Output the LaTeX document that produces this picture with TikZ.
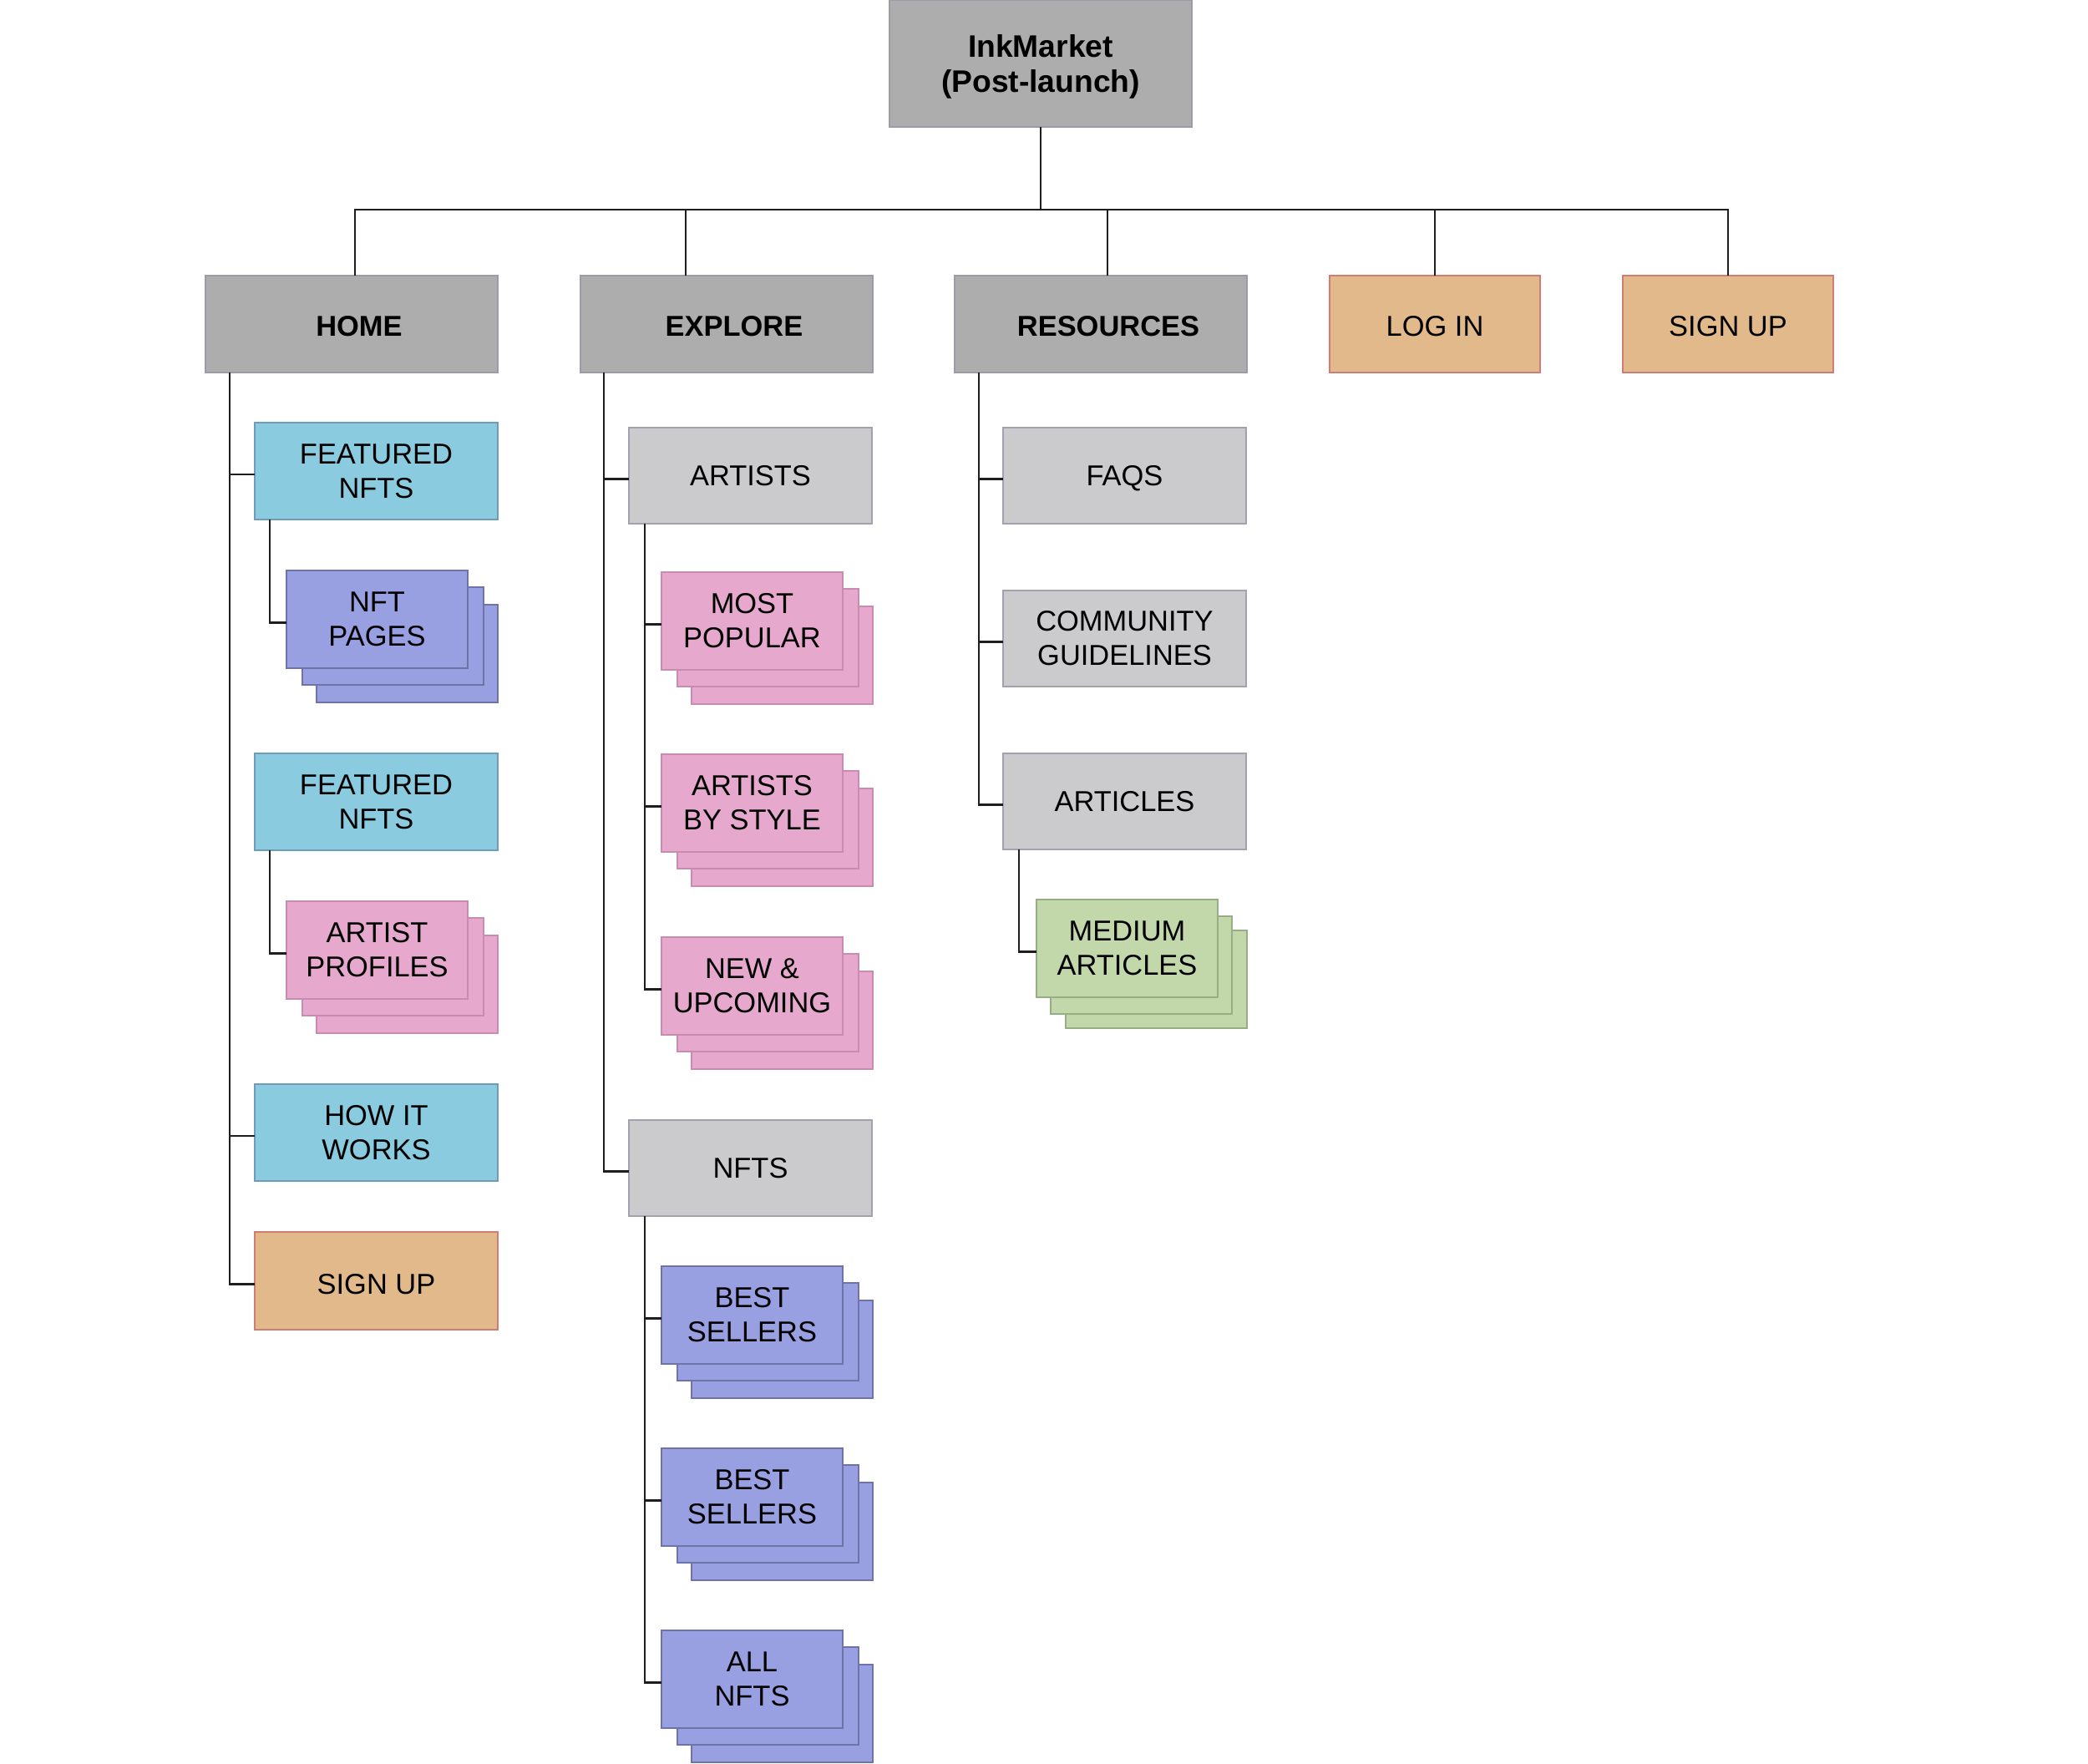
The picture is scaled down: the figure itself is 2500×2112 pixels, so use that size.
\documentclass[tikz,border=0pt]{standalone}
\usepackage{fontspec}
\setmainfont{Liberation Sans}
\usetikzlibrary{calc}
\definecolor{cGray}{HTML}{ADADAD}
\definecolor{cGrayB}{HTML}{9C9CA8}
\definecolor{cLight}{HTML}{CBCBCE}
\definecolor{cLightB}{HTML}{A2A2AE}
\definecolor{cCyan}{HTML}{8BCBDF}
\definecolor{cCyanB}{HTML}{6F9CB6}
\definecolor{cPurp}{HTML}{99A0E2}
\definecolor{cPurpB}{HTML}{6F74A8}
\definecolor{cPink}{HTML}{E6A9CD}
\definecolor{cPinkB}{HTML}{C98CB1}
\definecolor{cGreen}{HTML}{C2D8AB}
\definecolor{cGreenB}{HTML}{97AE84}
\definecolor{cTan}{HTML}{E1B98A}
\definecolor{cTanB}{HTML}{D07C74}
\definecolor{cLine}{HTML}{1E1E1E}
\newcommand{\lowtxt}[2]{\raisebox{-#1}[\height][\depth]{#2}}
\begin{document}
\begin{tikzpicture}[x=0.1mm,y=-0.1mm,
  base/.style={draw, line width=0.55pt, inner sep=0pt, outer sep=0pt, align=center, anchor=north west,
    font=\fontsize{9.8}{11.6}\selectfont},
  rootbox/.style={base, fill=cGray, draw=cGrayB, minimum width=36.2mm, minimum height=15.2mm, font=\fontsize{10.6}{11.8}\selectfont\bfseries},
  topbox/.style={base, fill=cGray, draw=cGrayB, minimum width=35.0mm, minimum height=11.6mm, font=\fontsize{9.8}{11.6}\selectfont\bfseries},
  actbox/.style={base, fill=cTan, draw=cTanB, minimum width=25.2mm, minimum height=11.6mm},
  subbox/.style={base, fill=cLight, draw=cLightB, minimum width=29.1mm, minimum height=11.5mm},
  featbox/.style={base, fill=cCyan, draw=cCyanB, minimum width=29.1mm, minimum height=11.6mm},
  signbox/.style={base, fill=cTan, draw=cTanB, minimum width=29.1mm, minimum height=11.7mm},
  card/.style={base, minimum width=21.7mm, minimum height=11.7mm},
  purp/.style={card, fill=cPurp, draw=cPurpB},
  pink/.style={card, fill=cPink, draw=cPinkB},
  green/.style={card, fill=cGreen, draw=cGreenB},
  wire/.style={draw=cLine, line width=0.7pt},
]
\useasboundingbox (0,0) rectangle (2500,2112);

% ---------- root and top level ----------
\node[rootbox] (root) at (1065,0) {\lowtxt{0.5mm}{\begin{tabular}{@{}c@{}}InkMarket\\(Post-launch)\end{tabular}}};
\node[topbox] (home) at (246,330) {\hspace*{1.8mm}\lowtxt{0.3mm}{HOME}};
\node[topbox] (explore) at (695,330) {\hspace*{1.8mm}\lowtxt{0.3mm}{EXPLORE}};
\node[topbox] (res) at (1143,330) {\hspace*{1.8mm}\lowtxt{0.3mm}{RESOURCES}};
\node[actbox] (login) at (1592,330) {\lowtxt{0.3mm}{LOG IN}};
\node[actbox] (signup) at (1943,330) {\lowtxt{0.3mm}{SIGN UP}};

\coordinate (bus) at (0,251);
\draw[wire] (root.south) -- (root.south |- bus);
\draw[wire] ($(home.north west)+(179,0)$) -- ++(0,-79) -| (signup.north);
\draw[wire] ($(explore.north west)+(126,0)$) -- ++(0,-79);
\draw[wire] ($(res.north west)+(183,0)$) -- ++(0,-79);
\draw[wire] (login.north) -- (login.north |- bus);

% ---------- HOME column ----------
\node[featbox] (feat1) at (305,506) {FEATURED\\NFTS};
\node[purp] (np3) at (379,724) {};
\node[purp] (np2) at (362,703) {};
\node[purp] (np) at (343,683) {NFT\\PAGES};
\node[featbox] (feat2) at (305,902) {FEATURED\\NFTS};
\node[pink] (ap3) at (379,1120) {};
\node[pink] (ap2) at (362,1099) {};
\node[pink] (ap) at (343,1079) {ARTIST\\PROFILES};
\node[featbox] (how) at (305,1298) {HOW IT\\WORKS};
\node[signbox] (hsign) at (305,1475) {\lowtxt{0.4mm}{SIGN UP}};

\draw[wire] ($(home.south west)+(29,0)$) |- ($(hsign.west)+(0,4)$);
\draw[wire] ($(home.south west)+(29,0)$) |- ($(feat1.west)+(0,4)$);
\draw[wire] ($(home.south west)+(29,0)$) |- ($(how.west)+(0,4)$);
\draw[wire] ($(feat1.south west)+(18,0)$) |- ($(np.west)+(0,4)$);
\draw[wire] ($(feat2.south west)+(18,0)$) |- ($(ap.west)+(0,4)$);

% ---------- EXPLORE column ----------
\node[subbox] (artists) at (753,512) {ARTISTS};
\node[pink] (mp3) at (828,726) {};
\node[pink] (mp2) at (811,705) {};
\node[pink] (mp) at (792,685) {MOST\\POPULAR};
\node[pink] (bs3) at (828,944) {};
\node[pink] (bs2) at (811,923) {};
\node[pink] (bs) at (792,903) {ARTISTS\\BY STYLE};
\node[pink] (nu3) at (828,1163) {};
\node[pink] (nu2) at (811,1142) {};
\node[pink] (nu) at (792,1122) {NEW \&\\UPCOMING};
\node[subbox] (nfts) at (753,1341) {NFTS};
\node[purp] (b13) at (828,1557) {};
\node[purp] (b12) at (811,1536) {};
\node[purp] (b1) at (792,1516) {BEST\\SELLERS};
\node[purp] (b23) at (828,1775) {};
\node[purp] (b22) at (811,1754) {};
\node[purp] (b2) at (792,1734) {BEST\\SELLERS};
\node[purp] (all3) at (828,1993) {};
\node[purp] (all2) at (811,1972) {};
\node[purp] (all) at (792,1952) {ALL\\NFTS};

\draw[wire] ($(explore.south west)+(28,0)$) |- ($(nfts.west)+(0,4)$);
\draw[wire] ($(explore.south west)+(28,0)$) |- ($(artists.west)+(0,4)$);
\draw[wire] ($(artists.south west)+(19,0)$) |- ($(nu.west)+(0,4)$);
\draw[wire] ($(artists.south west)+(19,0)$) |- ($(mp.west)+(0,4)$);
\draw[wire] ($(artists.south west)+(19,0)$) |- ($(bs.west)+(0,4)$);
\draw[wire] ($(nfts.south west)+(19,0)$) |- ($(all.west)+(0,4)$);
\draw[wire] ($(nfts.south west)+(19,0)$) |- ($(b1.west)+(0,4)$);
\draw[wire] ($(nfts.south west)+(19,0)$) |- ($(b2.west)+(0,4)$);

% ---------- RESOURCES column ----------
\node[subbox] (faqs) at (1201,512) {\smash{FAQS}\vphantom{A}};
\node[subbox] (comm) at (1201,707) {COMMUNITY\\GUIDELINES};
\node[subbox] (art) at (1201,902) {ARTICLES};
\node[green] (ma3) at (1276,1114) {};
\node[green] (ma2) at (1258,1097) {};
\node[green] (ma) at (1241,1077) {MEDIUM\\ARTICLES};

\draw[wire] ($(res.south west)+(29,0)$) |- ($(art.west)+(0,4)$);
\draw[wire] ($(res.south west)+(29,0)$) |- ($(faqs.west)+(0,4)$);
\draw[wire] ($(res.south west)+(29,0)$) |- ($(comm.west)+(0,4)$);
\draw[wire] ($(art.south west)+(19,0)$) |- ($(ma.west)+(0,4)$);
\end{tikzpicture}
\end{document}
